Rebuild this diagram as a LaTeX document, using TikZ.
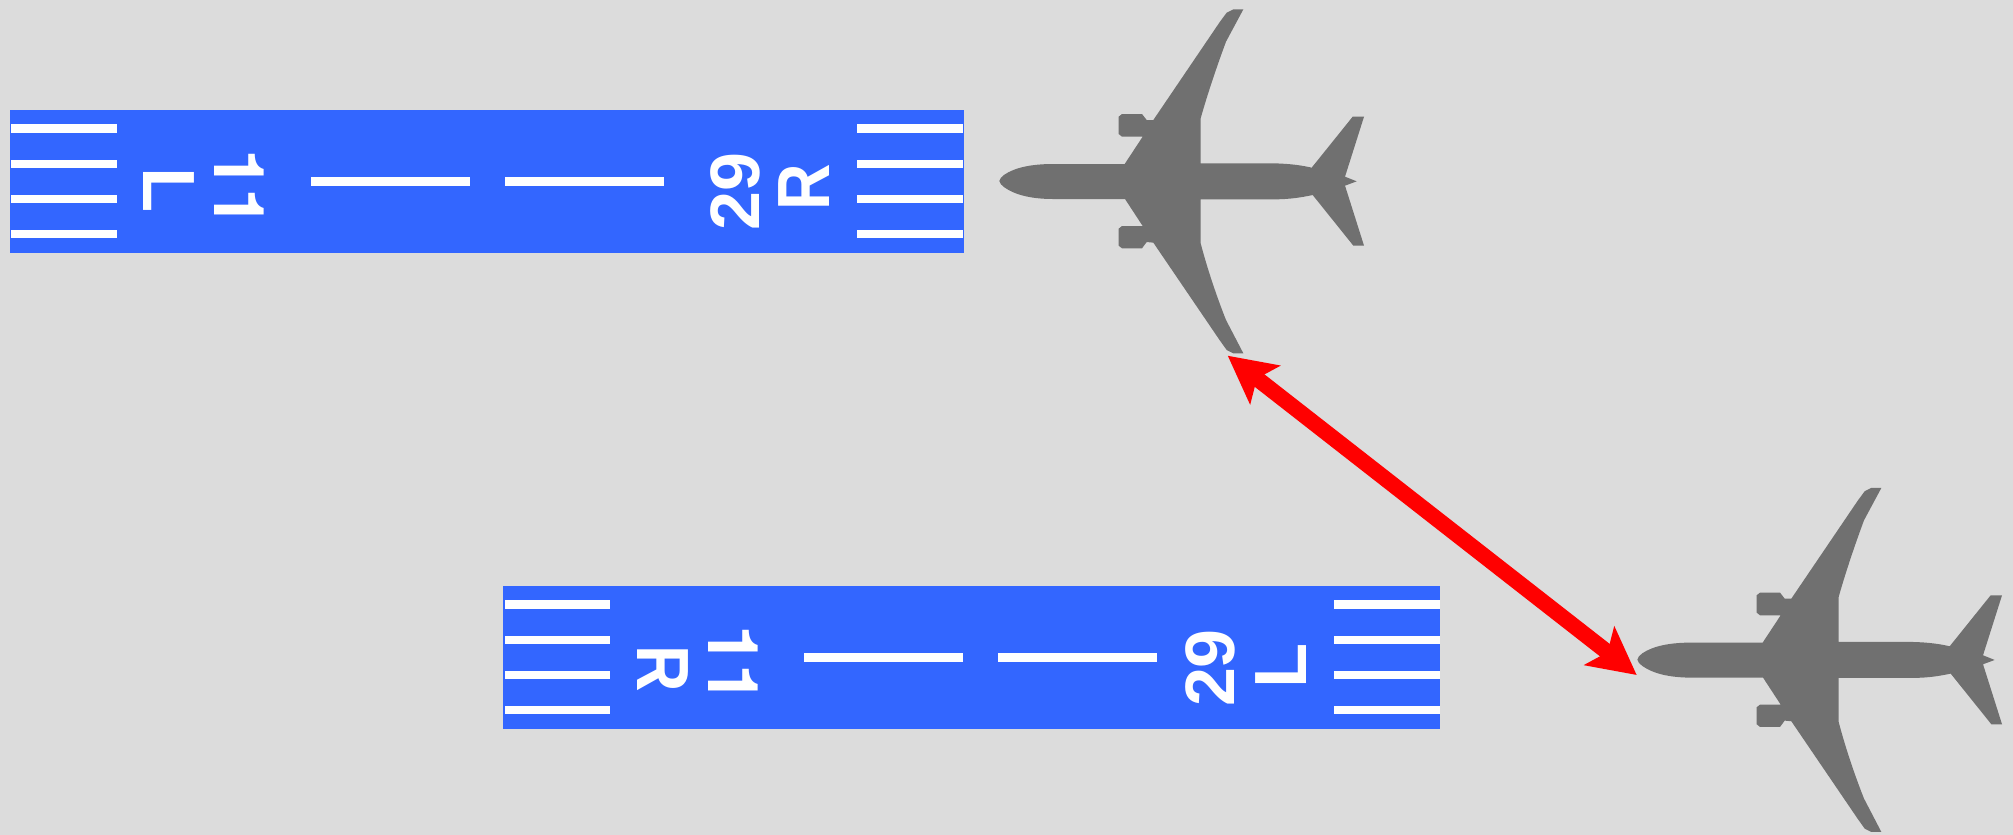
\documentclass[tikz,border=0pt]{standalone}
\usepackage{graphicx}
\usepackage{fontspec}
\setmainfont{Liberation Sans}
\usetikzlibrary{arrows.meta}
\definecolor{bgc}{HTML}{DCDCDC}
\definecolor{rwy}{HTML}{3366FF}
\definecolor{planec}{HTML}{707070}
\newfontfamily\rwyfont[Kerning=Off]{Liberation Sans}
\newfontfamily\onefont[Kerning=Off]{TeX Gyre Heros}
\tikzset{
  stripe/.style={fill=white,draw=none},
  runway/.style={fill=rwy,draw=none},
  mark digits/.style={text=white,inner sep=0pt,font=\fontsize{35}{35}\selectfont\rwyfont\bfseries},
  mark ones/.style={text=white,inner sep=0pt,font=\fontsize{35}{35}\selectfont\onefont\bfseries},
  mark letter/.style={text=white,inner sep=0pt,font=\fontsize{37}{37}\selectfont\rwyfont\bfseries},
  tip/.tip={Stealth[length=23.5pt,width=24pt,inset=5pt]},
  sep arrow/.style={draw=red,line width=7.9pt,{tip}-{tip}}
}
\newcommand{\planeshape}[2]{%
\begin{scope}[shift={(#1,#2)},x=0.1666667pt,y=-0.1666667pt]
\fill[planec] (28,543)
 .. controls (30,530) and (50,518) .. (70,510) .. controls (100,498) and (140,492) .. (190,492)
 -- (404,492) -- (458,410) -- (396,410)
 -- (386,402) -- (386,350) -- (396,342) -- (456,342) -- (470,360) -- (490,360)
 -- (690,65) -- (710,38) -- (730,28) -- (760,28) -- (708,125)
 .. controls (680,200) and (650,290) .. (632,355)
 -- (632,490) -- (850,490) .. controls (900,491) and (935,496) .. (965,503)
 -- (1088,350) -- (1122,350) -- (1065,530) -- (1100,544) -- (1065,557) -- (1122,737) -- (1090,737) -- (968,585)
 .. controls (935,592) and (900,598) .. (850,598)
 -- (632,598) -- (632,730)
 .. controls (650,800) and (680,890) .. (708,960)
 -- (760,1060) -- (730,1060) -- (710,1050) -- (690,1022) -- (490,728) -- (470,726) -- (456,745) -- (396,745)
 -- (386,737) -- (386,686) -- (396,678) -- (458,678) -- (405,597) -- (190,597)
 .. controls (140,597) and (100,590) .. (70,577) .. controls (50,568) and (30,556) .. (28,543) -- cycle;
\end{scope}}
\newcommand{\bars}[4]{%
\fill[stripe] (#1,#3) rectangle (#2,#3+8.4);
\fill[stripe] (#1,#3+35.7) rectangle (#2,#3+43.6);
\fill[stripe] (#1,#3+71) rectangle (#2,#3+79);
\fill[stripe] (#1,#3+106) rectangle (#2,#3+114);}
\begin{document}
\begin{tikzpicture}[x=0.5pt,y=-0.5pt]
\useasboundingbox (0,0) rectangle (2013,835);
\fill[bgc] (0,0) rectangle (2013,835);
% upper runway
\fill[runway] (10,110) rectangle (964,253);
\bars{11}{117}{124.3}{}
\bars{857.3}{963}{124.3}{}
\fill[stripe] (310.5,177.3) rectangle (470,185.7);
\fill[stripe] (504.5,177.3) rectangle (663.7,185.7);
\node[mark letter,rotate=-90] (upL) at (169,190.5) {L};
\node[mark ones,rotate=-90] (upE) at (239.5,188.5) {11};
\node[mark digits,rotate=90] (upW) at (735,191.5) {29};
\node[mark letter,rotate=90] (upR) at (804.5,187.5) {\scalebox{0.87}[1]{R}};
% lower runway
\fill[runway] (503,586) rectangle (1440,729);
\bars{504.5}{610}{600.3}{}
\bars{1334}{1439.5}{600.3}{}
\fill[stripe] (803.7,653.3) rectangle (963,661.7);
\fill[stripe] (997.5,653.3) rectangle (1156.7,661.7);
\node[mark letter,rotate=-90] (loR) at (662.5,669) {\scalebox{0.87}[1]{R}};
\node[mark ones,rotate=-90] (loE) at (733.5,664.5) {11};
\node[mark digits,rotate=90] (loW) at (1210.5,668) {29};
\node[mark letter,rotate=90] (loL) at (1281,665.5) {L};
% aircraft
\planeshape{990}{0}
\planeshape{1628}{478.6}
% separation arrow
\coordinate (sepA) at (1227.7,355.7);
\coordinate (sepB) at (1636.7,675);
\draw[sep arrow] (sepA) -- (sepB);
\end{tikzpicture}
\end{document}
